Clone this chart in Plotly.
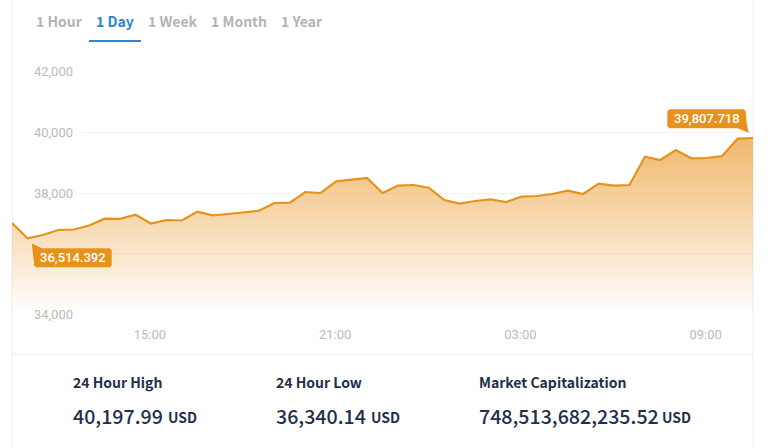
import plotly.graph_objects as go

W, H = 778, 448

times = [
    "2021-01-08 10:32", "2021-01-08 11:02", "2021-01-08 11:32", "2021-01-08 12:02", "2021-01-08 12:32",
    "2021-01-08 13:02", "2021-01-08 13:32", "2021-01-08 14:02", "2021-01-08 14:32", "2021-01-08 15:02",
    "2021-01-08 15:32", "2021-01-08 16:02", "2021-01-08 16:32", "2021-01-08 17:02", "2021-01-08 17:32",
    "2021-01-08 18:02", "2021-01-08 18:32", "2021-01-08 19:02", "2021-01-08 19:32", "2021-01-08 20:02",
    "2021-01-08 20:32", "2021-01-08 21:02", "2021-01-08 21:32", "2021-01-08 22:02", "2021-01-08 22:32",
    "2021-01-08 23:02", "2021-01-08 23:32", "2021-01-09 00:02", "2021-01-09 00:32", "2021-01-09 01:02",
    "2021-01-09 01:32", "2021-01-09 02:02", "2021-01-09 02:32", "2021-01-09 03:02", "2021-01-09 03:32",
    "2021-01-09 04:02", "2021-01-09 04:32", "2021-01-09 05:02", "2021-01-09 05:32", "2021-01-09 06:02",
    "2021-01-09 06:32", "2021-01-09 07:02", "2021-01-09 07:32", "2021-01-09 08:02", "2021-01-09 08:32",
    "2021-01-09 09:02", "2021-01-09 09:32", "2021-01-09 10:02", "2021-01-09 10:32",
]
prices = [
    37014, 36514, 36620, 36784, 36800, 36932, 37156, 37150, 37287, 36998,
    37113, 37096, 37386, 37267, 37310, 37353, 37418, 37672, 37681, 38033,
    38000, 38385, 38428, 38493, 38000, 38240, 38263, 38175, 37770, 37649,
    37737, 37793, 37704, 37879, 37902, 37967, 38076, 37967, 38306, 38240,
    38263, 39193, 39085, 39414, 39141, 39151, 39216, 39785, 39808,
]
y_ticks = [34000, 36000, 38000, 40000, 42000]
y_labels = ["34,000", "", "38,000", "40,000", "42,000"]
x_ticks = ["2021-01-08 15:00", "2021-01-08 21:00", "2021-01-09 03:00", "2021-01-09 09:00"]
x_labels = ["15:00", "21:00", "03:00", "09:00"]

tabs = ["1 Hour", "1 Day", "1 Week", "1 Month", "1 Year"]
tab_left = [36, 96, 148, 211, 281]
stat_names = ["24 Hour High", "24 Hour Low", "Market Capitalization"]
stat_values = ["40,197.99", "36,340.14", "748,513,682,235.52"]
stat_left = [73, 276, 479]
usd_left = [168, 371, 662]

ORANGE = "#e8921e"
BLUE = "#2f86cf"
GREY = "#b4b4b4"
NAVY = "#232f4b"
LINE = "#eeeeee"
PLOT_L, PLOT_R = 12, 753
GRID_L = 81
PLOT_T, PLOT_B = 71.3, 314.7


def px(x):
    return x / W


def py(y):
    return 1 - y / H


def label_path(left, top, right, bottom, tip, corner):
    # box with a small pointer on one corner
    r = 2
    if corner == "top-left":
        pts = [(left, top + 14), tip, (left + 8, top), (right - r, top), (right, top + r), (right, bottom - r),
               (right - r, bottom), (left + r, bottom), (left, bottom - r)]
    else:
        pts = [(left + r, top), (right - r, top), (right, top + r), (right + 1, top + 14), tip, (right - 8, bottom),
               (left + r, bottom), (left, bottom - r), (left, top + r)]
    return "M" + " L".join("%.5f,%.5f" % (px(a), py(c)) for a, c in pts) + " Z"


fig = go.Figure()
# grid subplot goes first so it stays under the area
fig.add_trace(go.Scatter(x=times, y=prices, xaxis="x", yaxis="y", mode="none", hoverinfo="skip", showlegend=False))
fig.add_trace(go.Scatter(
    x=times, y=prices, xaxis="x2", yaxis="y2", mode="lines", showlegend=False,
    line=dict(color=ORANGE, width=2.2),
    fill="tozeroy",
    fillgradient=dict(
        type="vertical", start=34000, stop=39800,
        colorscale=[[0, "rgba(232,146,30,0)"], [0.3, "rgba(232,146,30,0.2)"], [1, "rgba(232,146,30,0.65)"]],
    ),
))

y_dom = [py(PLOT_B), py(PLOT_T)]
fig.update_layout(
    width=W, height=H, margin=dict(l=0, r=0, t=0, b=0, pad=0, autoexpand=False),
    paper_bgcolor="white", plot_bgcolor="rgba(0,0,0,0)",
    xaxis=dict(domain=[px(GRID_L), px(PLOT_R)], range=[times[0], times[-1]], visible=False, anchor="y"),
    yaxis=dict(domain=y_dom, range=[34000, 42000], anchor="x", tickvals=y_ticks, ticktext=y_labels,
               showgrid=True, gridcolor="#f1f1f1", gridwidth=1, zeroline=False, showline=False,
               ticks="", ticklabelstandoff=7,
               tickfont=dict(family="Roboto", size=13, color="#bbbbbb")),
    xaxis2=dict(domain=[px(PLOT_L), px(PLOT_R)], range=[times[0], times[-1]], anchor="y2", type="date",
                tickvals=x_ticks, ticktext=x_labels, showgrid=False, zeroline=False, showline=False,
                ticks="", ticklabelstandoff=10,
                tickfont=dict(family="Roboto", size=13, color="#bbbbbb")),
    yaxis2=dict(domain=y_dom, range=[34000, 42000], anchor="x2", visible=False),
)

# frame and separators
frame = [
    (PLOT_L, 0, PLOT_L, H),
    (PLOT_R, 0, PLOT_R, H),
    (PLOT_L, 354.3, PLOT_R, 354.3),
]
for x0, y0, x1, y1 in frame:
    fig.add_shape(type="line", xref="paper", yref="paper", x0=px(x0), y0=py(y0), x1=px(x1), y1=py(y1),
                  line=dict(color=LINE, width=1), layer="below")
# active tab underline
fig.add_shape(type="line", xref="paper", yref="paper", x0=px(89), x1=px(141), y0=py(41), y1=py(41),
              line=dict(color=BLUE, width=2))
# value flags
fig.add_shape(type="path", xref="paper", yref="paper", fillcolor=ORANGE, line=dict(width=0),
              path=label_path(34, 248.3, 111.7, 267.3, (31.7, 243.3), "top-left"))
fig.add_shape(type="path", xref="paper", yref="paper", fillcolor=ORANGE, line=dict(width=0),
              path=label_path(667.3, 109.3, 745.7, 128.3, (748.7, 132.7), "bottom-right"))


def text(x, y, s, family, size, color, anchor="left", weight=None):
    fig.add_annotation(xref="paper", yref="paper", x=px(x), y=py(y), text=s, showarrow=False,
                       xanchor=anchor, yanchor="middle", align=anchor, borderpad=0, borderwidth=0,
                       font=dict(family=family, size=size, color=color, weight=weight))


CJK = "Noto Sans CJK SC"
for i, tab in enumerate(tabs):
    text(tab_left[i], 21.5, tab, CJK, 14, BLUE if tab == "1 Day" else GREY, weight=700)
for i in range(3):
    text(stat_left[i], 381.5, stat_names[i], CJK, 14, NAVY, weight=700)
    text(stat_left[i], 415.5, stat_values[i], CJK, 19.6, NAVY, weight=500)
    text(usd_left[i], 417, "USD", CJK, 14, NAVY, weight=700)
text(72.8, 257.5, "36,514.392", "Roboto", 13, "white", "center", 500)
text(706.5, 118.5, "39,807.718", "Roboto", 13, "white", "center", 500)

# the page keeps the browser's default body margin otherwise
fig.write_html("out.html", config={"displayModeBar": False}, post_script="document.body.style.margin='0';")
